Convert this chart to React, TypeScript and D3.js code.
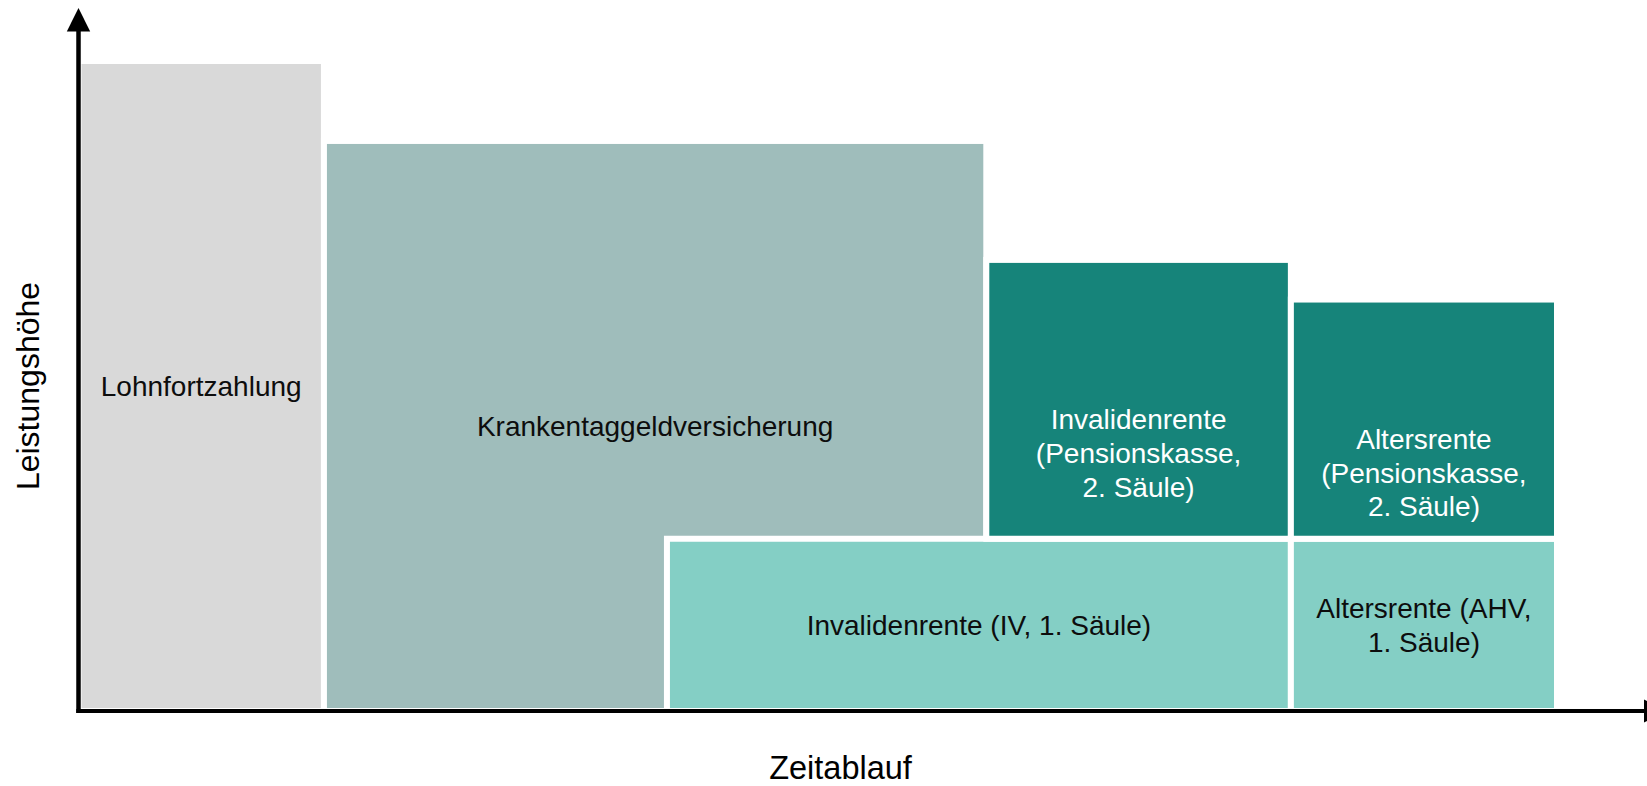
import React from "react";
import * as d3 from "d3";

// ---- Data (abstract units: time on x, benefit level on y) ----
const boxNames = [
  "Lohnfortzahlung",
  "Krankentaggeldversicherung",
  "Invalidenrente (IV, 1. Säule)",
  "Invalidenrente (Pensionskasse, 2. Säule)",
  "Altersrente (AHV, 1. Säule)",
  "Altersrente (Pensionskasse, 2. Säule)",
];
const boxLines: string[][] = [
  ["Lohnfortzahlung"],
  ["Krankentaggeldversicherung"],
  ["Invalidenrente (IV, 1. Säule)"],
  ["Invalidenrente", "(Pensionskasse,", "2. Säule)"],
  ["Altersrente (AHV,", "1. Säule)"],
  ["Altersrente", "(Pensionskasse,", "2. Säule)"],
];
const boxStart = [0, 16.6, 39.8, 61.4, 82, 82];
const boxEnd = [16.6, 61.4, 82, 82, 100, 100];
const boxBase = [0, 0, 0, 26.5, 0, 26.5];
const boxTop = [100, 87.7, 26.5, 69.4, 26.5, 63.3];
const boxKind = ["gray", "sick", "first", "second", "first", "second"];

const xTitle = "Zeitablauf";
const yTitle = "Leistungshöhe";

// ---- Styles ----
const W = 1647;
const H = 786;
const fills: Record<string, string> = {
  gray: "#D9D9D9",
  sick: "#9FBDBB",
  first: "#84CFC5",
  second: "#16847A",
};
const textColors: Record<string, string> = {
  gray: "#0D0D0D",
  sick: "#0D0D0D",
  first: "#0D0D0D",
  second: "#FFFFFF",
};
const labelShift: Record<string, number> = {
  gray: 0,
  sick: 0,
  first: 0,
  second: 53.5,
};
const FONT = "'Liberation Sans', Arial, Helvetica, sans-serif";
const LABEL_SIZE = 28;
const LINE_H = 33.7;

export default function App() {
  const x = d3.scaleLinear().domain([0, 100]).range([78.5, 1557]);
  const y = d3.scaleLinear().domain([0, 100]).range([711, 61]);

  const order = [0, 1, 2, 3, 4, 5];

  return (
    <svg
      width={W}
      height={H}
      viewBox={`0 0 ${W} ${H}`}
      style={{ position: "absolute", left: 0, top: 0, display: "block", background: "#fff" }}
    >
      <rect x={0} y={0} width={W} height={H} fill="#fff" />
      {order.map((i) => {
        const x0 = x(boxStart[i]);
        const x1 = x(boxEnd[i]);
        const yTop = y(boxTop[i]);
        const yBot = y(boxBase[i]);
        return (
          <rect
            key={boxNames[i]}
            x={x0}
            y={yTop}
            width={x1 - x0}
            height={yBot - yTop}
            fill={fills[boxKind[i]]}
            stroke="#fff"
            strokeWidth={6}
          />
        );
      })}
      {order.map((i) => {
        const cx = (x(boxStart[i]) + x(boxEnd[i])) / 2;
        const cy = (y(boxTop[i]) + y(boxBase[i])) / 2 + labelShift[boxKind[i]];
        const lines = boxLines[i];
        const first = cy - ((lines.length - 1) * LINE_H) / 2 + 10;
        return (
          <text
            key={"t" + i}
            textAnchor="middle"
            fontFamily={FONT}
            fontSize={LABEL_SIZE}
            fill={textColors[boxKind[i]]}
          >
            {lines.map((ln, k) => (
              <tspan key={k} x={cx} y={first + k * LINE_H}>
                {ln}
              </tspan>
            ))}
          </text>
        );
      })}
      {/* axes */}
      <line x1={78.5} y1={713} x2={78.5} y2={28} stroke="#000" strokeWidth={4.5} />
      <polygon points="78.5,8 66.8,31.5 90.2,31.5" fill="#000" />
      <line x1={76.3} y1={711} x2={1646} y2={711} stroke="#000" strokeWidth={4.2} />
      <polygon points={`1668,711 1644,699.5 1644,722.5`} fill="#000" />
      {/* axis titles */}
      <text x={840.5} y={778.5} textAnchor="middle" fontFamily={FONT} fontSize={32.5} fill="#000">
        {xTitle}
      </text>
      <text
        transform="translate(38.5,386) rotate(-90)"
        textAnchor="middle"
        fontFamily={FONT}
        fontSize={32}
        fill="#000"
      >
        {yTitle}
      </text>
    </svg>
  );
}
